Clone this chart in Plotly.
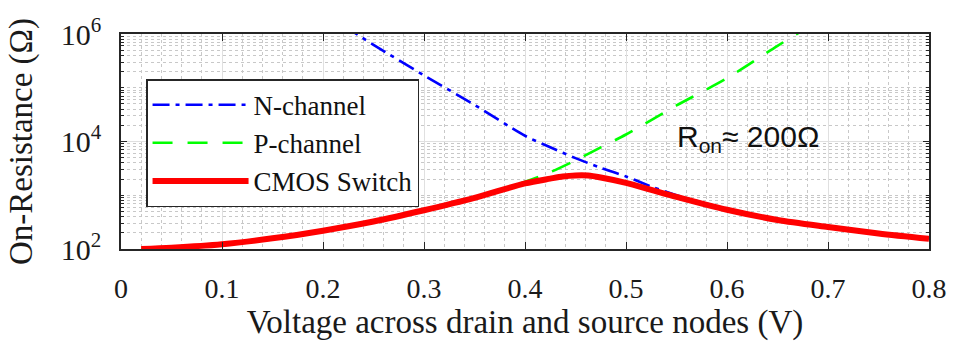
import plotly.graph_objects as go

# Drain-source voltage samples (V) and on-resistance readings (ohm)
v_cmos = [0.02, 0.05, 0.1, 0.15, 0.2, 0.25, 0.3, 0.35, 0.4, 0.425, 0.4375,
          0.45, 0.4625, 0.475, 0.5, 0.525, 0.55, 0.6, 0.65, 0.7, 0.75, 0.8]
r_cmos = [100, 106, 123, 158, 219, 324, 525, 891, 1660, 2040, 2240,
          2340, 2330, 2140, 1700, 1260, 933, 537, 347, 257, 195, 155]

v_nch = [0.22, 0.25, 0.3, 0.35, 0.4, 0.425, 0.45, 0.475, 0.5, 0.525,
         0.55, 0.6, 0.65, 0.7, 0.75, 0.8]
r_nch = [1.45e6, 6.3e5, 1.7e5, 4.8e4, 1.28e4, 7.8e3, 4.9e3, 3.24e3, 2.24e3,
         1.45e3, 1.0e3, 556, 355, 263, 200, 158]

v_pch = [0.02, 0.05, 0.1, 0.15, 0.2, 0.25, 0.3, 0.35, 0.4, 0.425, 0.45,
         0.475, 0.5, 0.525, 0.55, 0.6, 0.65, 0.675]
r_pch = [101, 107, 124, 160, 221, 327, 531, 912, 1780, 2690, 4470,
         7760, 1.35e4, 2.51e4, 4.68e4, 1.51e5, 6.03e5, 1.17e6]

x_ticks = [0, 0.1, 0.2, 0.3, 0.4, 0.5, 0.6, 0.7, 0.8]
x_tick_text = ["0", "0.1", "0.2", "0.3", "0.4", "0.5", "0.6", "0.7", "0.8"]
y_ticks = [1e2, 1e4, 1e6]
y_tick_text = ["10<sup>2</sup>", "10<sup>4</sup>", "10<sup>6</sup>"]

SERIF = "Liberation Serif"
SANS = "Liberation Sans"
AXIS_COLOR = "#262626"

fig = go.Figure()
fig.add_trace(go.Scatter(
    x=v_nch, y=r_nch, name="N-channel", mode="lines",
    line=dict(color="#0000ff", width=2.6, dash="17px,6px,4px,6px",
              shape="spline", smoothing=0.8),
))
fig.add_trace(go.Scatter(
    x=v_pch, y=r_pch, name="P-channel", mode="lines",
    line=dict(color="#00ff00", width=2.6, dash="20px,15px",
              shape="spline", smoothing=0.8),
))
fig.add_trace(go.Scatter(
    x=v_cmos, y=r_cmos, name="CMOS Switch", mode="lines",
    line=dict(color="#ff0000", width=6, shape="spline", smoothing=0.8),
))

fig.add_annotation(
    text="R<sub>on</sub>≈ 200Ω", xref="paper", yref="paper",
    x=0.686, y=0.513, xanchor="left", yanchor="middle", showarrow=False,
    font=dict(family=SANS, size=30, color="#111111"),
)

fig.update_xaxes(
    range=[0, 0.8], tickvals=x_ticks, ticktext=x_tick_text,
    ticks="inside", ticklen=7, tickwidth=1.2, tickcolor=AXIS_COLOR,
    showline=True, linecolor=AXIS_COLOR, linewidth=1.5, mirror="ticks",
    showgrid=True, gridcolor="#e0e0e0", gridwidth=1,
    minor=dict(dtick=0.02, showgrid=True, gridcolor="#c8c8c8",
               griddash="dot", gridwidth=1, ticks=""),
    zeroline=False, ticklabelstandoff=14, automargin=False,
    tickfont=dict(family=SERIF, size=28, color="#1a1a1a"),
    title=dict(text="Voltage across drain and source nodes (V)",
               font=dict(family=SERIF, size=33, color="#1a1a1a"), standoff=0),
)
fig.update_yaxes(
    type="log", range=[2, 6], tickvals=y_ticks, ticktext=y_tick_text,
    ticks="inside", ticklen=6, tickwidth=1.2, tickcolor=AXIS_COLOR,
    showline=True, linecolor=AXIS_COLOR, linewidth=1.5, mirror="ticks",
    showgrid=True, gridcolor="#e0e0e0", gridwidth=1,
    minor=dict(dtick="D1", showgrid=True, gridcolor="#c8c8c8",
               griddash="dot", gridwidth=1, ticks="inside", ticklen=3.5,
               tickcolor=AXIS_COLOR),
    zeroline=False, ticklabelstandoff=12, automargin=False,
    tickfont=dict(family=SERIF, size=30, color="#1a1a1a"),
    title=dict(text="On-Resistance (Ω)",
               font=dict(family=SERIF, size=33, color="#1a1a1a"), standoff=18),
)

fig.update_layout(
    width=956, height=342,
    margin=dict(l=121, r=27, t=34, b=93),
    paper_bgcolor="white", plot_bgcolor="white",
    showlegend=True,
    legend=dict(
        x=0.031, y=0.79, xanchor="left", yanchor="top",
        bgcolor="white", bordercolor=AXIS_COLOR, borderwidth=1.5,
        font=dict(family=SERIF, size=27, color="#111111"),
        itemwidth=96, tracegroupgap=0,
    ),
)

fig.write_html("out.html")
